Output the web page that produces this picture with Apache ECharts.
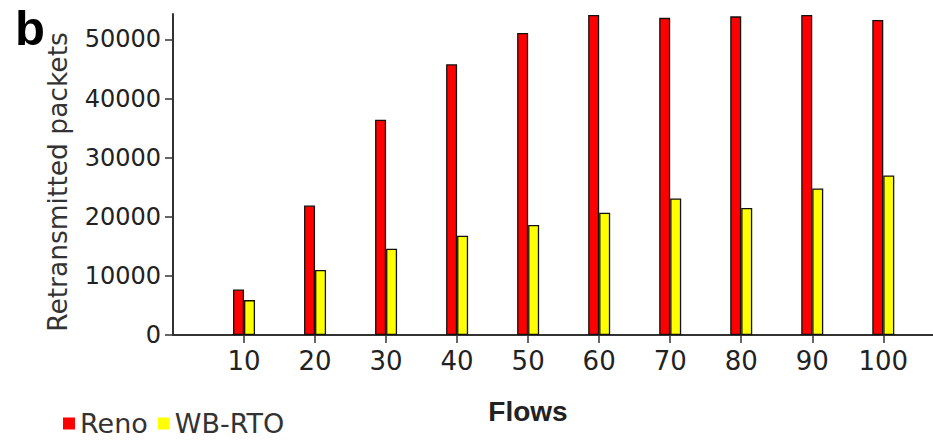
<!DOCTYPE html>
<html>
<head>
<meta charset="utf-8">
<script src="https://cdn.jsdelivr.net/npm/echarts@6/dist/echarts.min.js"></script>
<style>
html,body{margin:0;padding:0;background:#fff;}
#chart{width:933px;height:442px;}
</style>
</head>
<body>
<div id="chart"></div>
<script>
const categories = [10, 20, 30, 40, 50, 60, 70, 80, 90, 100];
const renoValues = [7700, 21900, 36400, 45800, 51100, 54150, 53650, 53900, 54150, 53300];
const wbrtoValues = [5900, 11000, 14600, 16800, 18600, 20700, 23100, 21500, 24800, 27000];
const yTicks = [0, 10000, 20000, 30000, 40000, 50000];
const seriesNames = ['Reno', 'WB-RTO'];

const FONT = 'DejaVu Sans';
const chart = echarts.init(document.getElementById('chart'), null, {renderer: 'svg'});
const pairs = vals => categories.map((c, i) => [c, vals[i]]);

chart.setOption({
  animation: false,
  backgroundColor: '#fff',
  title: {
    text: 'b', left: 10, top: -2,
    textStyle: {fontFamily: 'Liberation Sans', fontWeight: 'bold', fontSize: 49, color: '#000'}
  },
  legend: {
    data: seriesNames,
    left: 58, top: 405,
    icon: 'rect', itemWidth: 12, itemHeight: 12, itemGap: 10,
    itemStyle: {borderWidth: 0},
    textStyle: {fontFamily: FONT, fontSize: 27, color: '#333'}
  },
  grid: {left: 173, right: 0, top: 14, bottom: 107, containLabel: false},
  xAxis: {
    type: 'value', min: 0, max: 107,
    name: 'Flows', nameLocation: 'middle', nameGap: 62,
    nameTextStyle: {fontFamily: 'Liberation Sans', fontWeight: 'bold', fontSize: 28, color: '#222', padding: [0, 50, 0, 0]},
    axisLine: {show: true, lineStyle: {color: '#333', width: 2}},
    axisTick: {show: true, length: 8, customValues: categories, lineStyle: {color: '#333', width: 1.5}},
    axisLabel: {customValues: categories, fontFamily: FONT, fontSize: 26, color: '#222', margin: 13,
      formatter: v => String(v)},
    splitLine: {show: false}
  },
  yAxis: {
    type: 'value', min: 0, max: 54300,
    name: 'Retransmitted packets', nameLocation: 'middle', nameRotate: 90, nameGap: 102,
    nameTextStyle: {fontFamily: FONT, fontSize: 26.5, color: '#333', padding: [0, 15, 0, 0]},
    axisLine: {show: true, lineStyle: {color: '#333', width: 2}},
    axisTick: {show: true, length: 8, customValues: yTicks, lineStyle: {color: '#333', width: 1.5}},
    axisLabel: {customValues: yTicks, fontFamily: FONT, fontSize: 24, color: '#222', margin: 12,
      formatter: v => String(v)},
    splitLine: {show: false}
  },
  series: [
    {
      name: seriesNames[0], type: 'bar', data: pairs(renoValues),
      barWidth: 11, barGap: '0%',
      itemStyle: {color: '#ff0000', borderColor: '#111', borderWidth: 1.3}
    },
    {
      name: seriesNames[1], type: 'bar', data: pairs(wbrtoValues),
      barWidth: 11, barGap: '0%',
      itemStyle: {color: '#ffff00', borderColor: '#111', borderWidth: 1.3}
    }
  ]
});
</script>
</body>
</html>
